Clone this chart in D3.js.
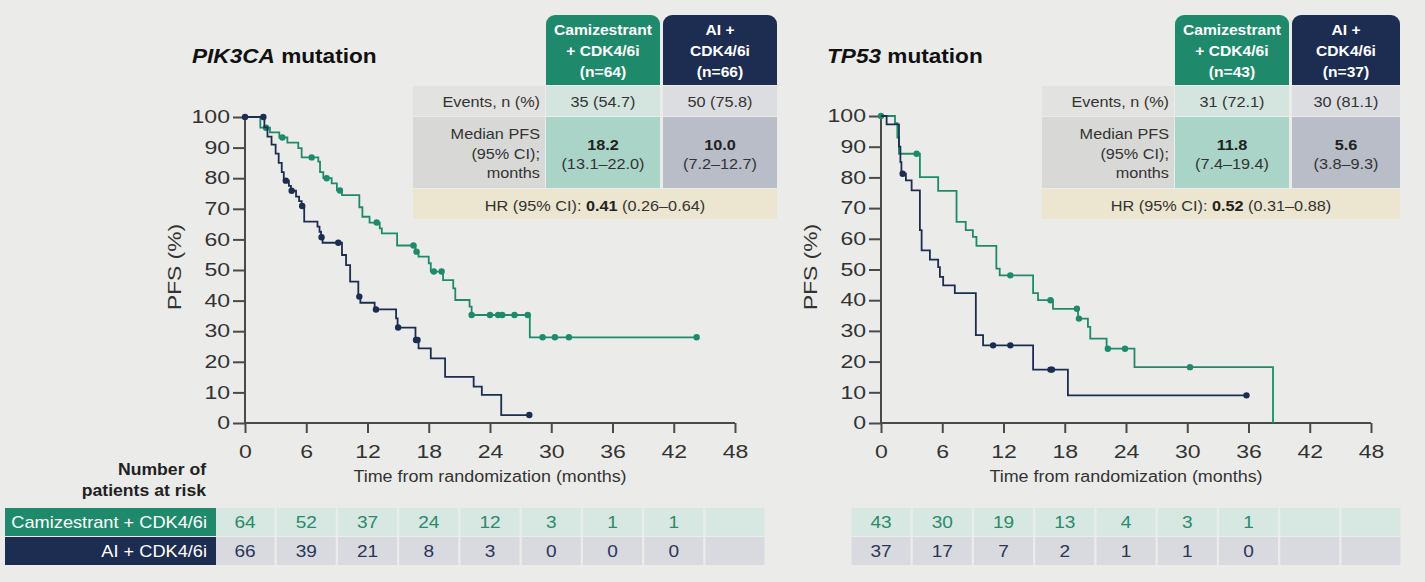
<!DOCTYPE html>
<html><head><meta charset="utf-8">
<script src="https://cdn.jsdelivr.net/npm/d3@7"></script>
<style>
body{margin:0;background:#ebecea;}
svg{display:block;font-family:"Liberation Sans",Arial,sans-serif;}
</style></head><body>
<svg width="1425" height="582"></svg>
<script>
const monthTicks = [0, 6, 12, 18, 24, 30, 36, 42, 48];
const pfsTicks = [0, 10, 20, 30, 40, 50, 60, 70, 80, 90, 100];

// PIK3CA - camizestrant arm: [month, PFS%] at each drop
const pikCamSteps = [[0,100],[1.5,96.5],[2.45,95],[3.36,93.3],[4.15,91.6],[5.22,89.8],[5.55,86.8],[7.18,85.4],[7.35,82],[7.67,80],[8.49,78.3],[9.0,76],[9.5,74.5],[11.2,70.5],[11.5,67.4],[12.2,65.5],[13.2,63.6],[13.4,62],[14.9,58],[16.7,56],[17.0,54.4],[18.0,52.2],[18.2,49.5],[19.4,46.7],[20.4,44],[20.6,40.2],[22.0,38],[22.2,35.3],[27.9,28]];
const pikCamCensor = [2.06,3.66,6.53,8.0,9.3,12.9,16.5,16.8,18.5,19.26,22.2,24.0,24.8,25.2,26.4,27.7,29.15,30.36,31.73,44.24];
// PIK3CA - AI arm
const pikAiSteps = [[0,100],[1.9,96.6],[2.2,93.6],[2.6,91],[3.0,88],[3.3,85],[3.6,82],[3.8,79.2],[4.3,77.5],[4.5,75.9],[5.0,74],[5.3,72.5],[5.55,70.9],[5.8,65.8],[7.1,64.2],[7.3,62.5],[7.45,60.7],[7.6,58.9],[9.5,54.9],[9.9,51.6],[10.3,46.2],[11.1,41.3],[11.3,39.3],[12.7,37.1],[14.8,34.2],[14.95,31.2],[16.7,27.1],[17.0,24.4],[18.2,21.1],[19.6,15.1],[22.4,11.9],[23.2,9.2],[25.1,2.6]];
const pikAiCensor = [0,1.8,4.0,4.57,5.6,7.5,9.14,11.2,12.83,15.0,16.75,16.9,27.85];

// TP53 - camizestrant arm
const tpCamSteps = [[0,100],[1.37,97.7],[1.6,93],[1.76,87.7],[3.81,80.1],[5.6,75.6],[7.4,65.5],[8.3,62.8],[9.0,60.6],[9.35,57.7],[11.3,50.3],[11.63,48.1],[14.9,42.3],[15.38,40],[16.85,37.2],[19.3,34],[20.27,31.3],[20.5,27.5],[22.1,24.2],[24.83,18.2],[38.4,0]];
const tpCamCensor = [0,3.49,12.67,16.6,19.19,19.39,22.22,23.9,30.27];
// TP53 - AI arm
const tpAiSteps = [[0,100],[0.55,97.3],[1.76,90],[1.9,85],[2.0,81.2],[2.44,79],[3.0,75.8],[3.81,62.8],[3.98,56.2],[4.79,53.2],[5.6,50.8],[5.77,47.6],[6.09,44.8],[7.23,42.3],[9.29,28.6],[10.0,25.3],[14.9,17.4],[18.31,9.0]];
const tpAiCensor = [2.12,10.98,12.67,16.6,16.75,35.8];

// summary tables
const armHeaders = [["Camizestrant", "+ CDK4/6i"], ["AI +", "CDK4/6i"]];
const pikN = [64, 66];
const tpN = [43, 37];
const pikEvents = ["35 (54.7)", "50 (75.8)"];
const tpEvents = ["31 (72.1)", "30 (81.1)"];
const pikMedian = [["18.2", "(13.1–22.0)"], ["10.0", "(7.2–12.7)"]];
const tpMedian = [["11.8", "(7.4–19.4)"], ["5.6", "(3.8–9.3)"]];
const pikHR = ["0.41", "(0.26–0.64)"];
const tpHR = ["0.52", "(0.31–0.88)"];

// patients at risk
const pikCamRisk = [64, 52, 37, 24, 12, 3, 1, 1];
const pikAiRisk = [66, 39, 21, 8, 3, 0, 0, 0];
const tpCamRisk = [43, 30, 19, 13, 4, 3, 1];
const tpAiRisk = [37, 17, 7, 2, 1, 1, 0];

const GREEN = "#1f8a6b", NAVY = "#1d2d52";
const svg = d3.select("svg");

function survAt(steps, t) {
  let v = 100;
  steps.forEach(([m, s]) => { if (m <= t) v = s; });
  return v;
}

// the slide text is a bit wider than plain Arial, widen glyphs
function widen(sel, k) {
  sel.each(function () {
    const w = this.getComputedTextLength();
    d3.select(this).attr("textLength", w * k).attr("lengthAdjust", "spacingAndGlyphs");
  });
}

function panel(p) {
  const x = d3.scaleLinear().domain([0, 48]).range([p.x0, p.x0 + 490]);
  const y = d3.scaleLinear().domain([0, 100]).range([423, p.yTop]);
  const g = svg.append("g");

  // title
  const t = g.append("text").attr("x", p.titleX).attr("y", 63)
    .attr("font-size", 20).attr("font-weight", "bold").attr("fill", "#111");
  t.append("tspan").attr("font-style", "italic").text(p.gene);
  t.append("tspan").text(" mutation");
  widen(t, 1.13);

  // axes
  const ya = g.append("g").attr("transform", `translate(${p.x0},0)`)
    .call(d3.axisLeft(y).tickValues(pfsTicks).tickSize(12).tickPadding(3));
  const xa = g.append("g").attr("transform", "translate(0,423)")
    .call(d3.axisBottom(x).tickValues(monthTicks).tickSize(10).tickPadding(12));
  [ya, xa].forEach(a => {
    a.select(".domain").attr("stroke", "#4a4a4a").attr("stroke-width", 2);
    a.selectAll(".tick line").attr("stroke", "#4a4a4a").attr("stroke-width", 2);
    a.selectAll("text").attr("font-size", 18).attr("fill", "#333").attr("font-family", "Liberation Sans, Arial, sans-serif");
    widen(a.selectAll("text"), 1.28);
  });
  xa.select(".domain").attr("d", `M${p.x0},0H${p.x0 + 490}`);
  ya.select(".domain").attr("d", `M0,${y(100)}V423`);

  widen(g.append("text").attr("x", p.x0 + 245).attr("y", 482).attr("text-anchor", "middle")
    .attr("font-size", 16).attr("fill", "#333").text("Time from randomization (months)"), 1.12);
  const yl = g.append("text").attr("transform", `translate(${p.x0 - 64},267) rotate(-90)`)
    .attr("text-anchor", "middle").attr("font-size", 19).attr("fill", "#333").text("PFS (%)");
  yl.attr("textLength", 86).attr("lengthAdjust", "spacingAndGlyphs");

  // curves
  const line = d3.line().curve(d3.curveStepAfter).x(d => x(d[0])).y(d => y(d[1]));
  p.curves.forEach(c => {
    const pts = c.steps.slice();
    const last = pts[pts.length - 1];
    if (c.end > last[0]) pts.push([c.end, last[1]]);
    g.append("path").attr("d", line(pts)).attr("fill", "none")
      .attr("stroke", c.color).attr("stroke-width", 1.8);
    g.selectAll(null).data(c.censor).join("circle")
      .attr("cx", d => x(d)).attr("cy", d => y(survAt(c.steps, d)))
      .attr("r", 3.2).attr("fill", c.color);
  });

  // summary table
  const L = p.tab, cols = [[L + 133, L + 247], [L + 250, p.tabEnd]];
  const tb = g.append("g").attr("font-size", 14.5).attr("fill", "#333");
  const hdrCol = [GREEN, NAVY];
  cols.forEach(([a, b], i) => {
    tb.append("rect").attr("x", a).attr("y", 15).attr("width", b - a).attr("height", 70)
      .attr("rx", 9).attr("fill", hdrCol[i]);
    tb.append("rect").attr("x", a).attr("y", 60).attr("width", b - a).attr("height", 25).attr("fill", hdrCol[i]);
    const lines = armHeaders[i].concat([`(n=${p.n[i]})`]);
    lines.forEach((s, k) => widen(tb.append("text").attr("x", (a + b) / 2).attr("y", 35 + k * 21)
      .attr("text-anchor", "middle").attr("font-weight", "bold").attr("font-size", 15)
      .attr("fill", "#fff").text(s), 1.04));
  });
  const rowFill = [["#e2e3e0", "#d3e5de", "#dcdde1"], ["#d8d9d6", "#a9d4c7", "#b9bdc8"]];
  const rows = [[86, 30], [117, 71]];
  rows.forEach(([ry, rh], r) => {
    const xs = [[L, L + 132], cols[0], cols[1]];
    xs.forEach(([a, b], c) => tb.append("rect").attr("x", a).attr("y", ry).attr("width", b - a)
      .attr("height", rh).attr("fill", rowFill[r][c]));
  });
  tb.append("rect").attr("x", L).attr("y", 189).attr("width", p.tabEnd - L).attr("height", 30).attr("fill", "#ece5cf");
  const tx = [];
  tx.push(tb.append("text").attr("x", L + 127).attr("y", 107).attr("text-anchor", "end").text("Events, n (%)"));
  ["Median PFS", "(95% CI);", "months"].forEach((s, k) => tx.push(tb.append("text")
    .attr("x", L + 127).attr("y", 139 + k * 19.5).attr("text-anchor", "end").text(s)));
  cols.forEach(([a, b], i) => {
    tx.push(tb.append("text").attr("x", (a + b) / 2).attr("y", 107).attr("text-anchor", "middle").text(p.events[i]));
    tx.push(tb.append("text").attr("x", (a + b) / 2).attr("y", 150).attr("text-anchor", "middle")
      .attr("font-weight", "bold").attr("fill", "#222").text(p.median[i][0]));
    tx.push(tb.append("text").attr("x", (a + b) / 2).attr("y", 169).attr("text-anchor", "middle").text(p.median[i][1]));
  });
  const hr = tb.append("text").attr("x", (L + p.tabEnd) / 2).attr("y", 211).attr("text-anchor", "middle");
  hr.append("tspan").text("HR (95% CI): ");
  hr.append("tspan").attr("font-weight", "bold").attr("fill", "#222").text(p.hr[0]);
  hr.append("tspan").text(" " + p.hr[1]);
  tx.push(hr);
  tx.forEach(s => widen(s, 1.12));

  // patients at risk
  const rk = g.append("g").attr("font-size", 17);
  const riskRows = [[p.risk[0], 508, "#d6e8e1", "#2b8a6c"], [p.risk[1], 537, "#d9dadf", "#2a3658"]];
  riskRows.forEach(([vals, ry, fill, col]) => {
    rk.selectAll(null).data(monthTicks).join("rect")
      .attr("x", d => x(d) - 29.5).attr("y", ry).attr("width", 59).attr("height", 28).attr("fill", fill);
    widen(rk.selectAll(null).data(vals).join("text")
      .attr("x", (d, i) => x(monthTicks[i])).attr("y", ry + 20).attr("text-anchor", "middle")
      .attr("fill", col).text(d => d), 1.12);
  });
}

panel({x0: 245, yTop: 117, titleX: 192, gene: "PIK3CA", tab: 413, tabEnd: 777,
  n: pikN, events: pikEvents, median: pikMedian, hr: pikHR, risk: [pikCamRisk, pikAiRisk],
  curves: [{steps: pikCamSteps, censor: pikCamCensor, end: 44.24, color: GREEN},
           {steps: pikAiSteps, censor: pikAiCensor, end: 27.85, color: NAVY}]});
panel({x0: 881, yTop: 116, titleX: 827, gene: "TP53", tab: 1042, tabEnd: 1400,
  n: tpN, events: tpEvents, median: tpMedian, hr: tpHR, risk: [tpCamRisk, tpAiRisk],
  curves: [{steps: tpCamSteps, censor: tpCamCensor, end: 38.4, color: GREEN},
           {steps: tpAiSteps, censor: tpAiCensor, end: 35.8, color: NAVY}]});

// at-risk row labels (left panel only)
const lab = svg.append("g");
widen(lab.append("text").attr("x", 206).attr("y", 475).attr("text-anchor", "end").attr("font-size", 16)
  .attr("font-weight", "bold").attr("fill", "#222").text("Number of"), 1.1);
widen(lab.append("text").attr("x", 206).attr("y", 496).attr("text-anchor", "end").attr("font-size", 16)
  .attr("font-weight", "bold").attr("fill", "#222").text("patients at risk"), 1.1);
[["Camizestrant + CDK4/6i", 508, GREEN], ["AI + CDK4/6i", 537, NAVY]].forEach(([s, ry, c]) => {
  lab.append("rect").attr("x", 5).attr("y", ry).attr("width", 211).attr("height", 28).attr("fill", c);
  widen(lab.append("text").attr("x", 207).attr("y", ry + 20).attr("text-anchor", "end").attr("font-size", 17)
    .attr("fill", "#fff").text(s), 1.07);
});
</script>
</body></html>
